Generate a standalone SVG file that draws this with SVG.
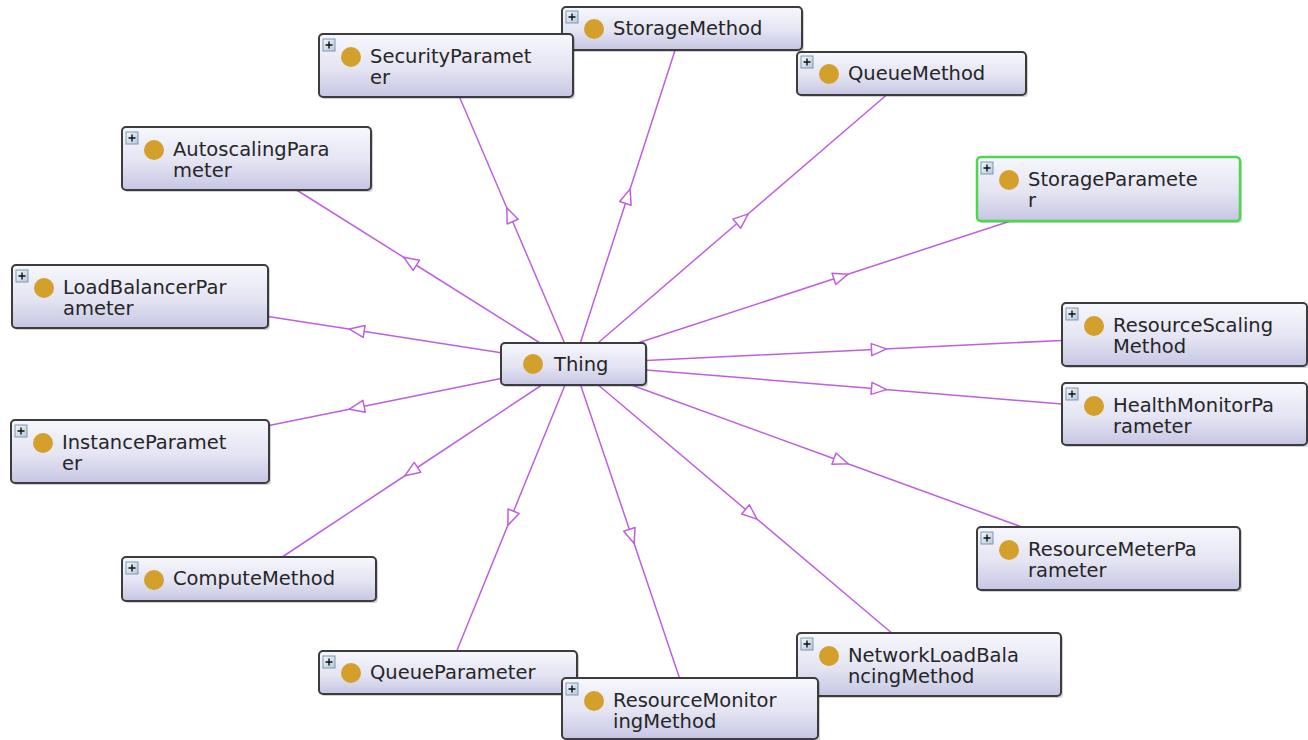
<svg xmlns="http://www.w3.org/2000/svg" width="1308" height="740" viewBox="0 0 1308 740">
<defs>
<linearGradient id="nodeGrad" x1="0" y1="0" x2="0" y2="1">
<stop offset="0" stop-color="#f7f7fd"/>
<stop offset="0.55" stop-color="#e4e4f3"/>
<stop offset="1" stop-color="#c6c6e3"/>
</linearGradient>
<linearGradient id="iconGrad" x1="0" y1="0" x2="1" y2="1">
<stop offset="0" stop-color="#f4f8fc"/>
<stop offset="1" stop-color="#b4c8dc"/>
</linearGradient>
<marker id="tri" markerUnits="userSpaceOnUse" markerWidth="20" markerHeight="16" viewBox="-2 -2 20 16" refX="7.5" refY="6" orient="auto">
<path d="M0,0 L15,6 L0,12 Z" fill="#ffffff" stroke="#bf5fe0" stroke-width="1.5" stroke-linejoin="round"/>
</marker>
<g id="plus">
<rect x="0" y="0" width="12" height="12" fill="url(#iconGrad)" stroke="#7f97b0" stroke-width="1"/>
<path d="M2.5,6 H9.5 M6,2.5 V9.5" stroke="#111" stroke-width="1.4"/>
</g>
</defs>
<style>
.edge{fill:none;stroke:#bf5fe0;stroke-width:1.5;marker-mid:url(#tri)}
.box{fill:url(#nodeGrad);stroke:#3c3c3c;stroke-width:2}
.sel{stroke:#4bd84b;stroke-width:2.5}
.shadow{fill:#000;opacity:0.18}
.dot{fill:#d4a02c}
.lbl{font-family:"DejaVu Sans","Liberation Sans",sans-serif;font-size:19.5px;fill:#262626}
</style>
<rect width="1308" height="740" fill="#ffffff"/>
<g id="connectors">
<path class="edge" d="M564.5,343 L509.75,214.75 L459.5,97"/>
<path class="edge" d="M580.3,343 L627.75,196.25 L675.1,50"/>
<path class="edge" d="M597.9,343 L742.5,218.75 L886.5,95"/>
<path class="edge" d="M540.1,343 L410,261.25 L296.6,190"/>
<path class="edge" d="M637.7,343 L841,276.5 L1010.6,221"/>
<path class="edge" d="M501,352.7 L356.75,330.25 L268,316.4"/>
<path class="edge" d="M646,360.5 L879,349.25 L1062,340.4"/>
<path class="edge" d="M646,369.9 L879,389 L1062,404"/>
<path class="edge" d="M501,378.6 L356.75,407.75 L269,425.5"/>
<path class="edge" d="M541.8,385 L411.25,471.5 L282.2,557"/>
<path class="edge" d="M565,385 L510.75,518.25 L456.75,651"/>
<path class="edge" d="M580.6,385 L631.75,536.5 L679.5,678"/>
<path class="edge" d="M598.3,385 L751.25,514.25 L891.7,633"/>
<path class="edge" d="M631.3,385 L841,461.25 L1021.8,527"/>
</g>
<g id="StorageMethod">
<rect class="shadow" x="564" y="9" width="240" height="43" rx="4"/>
<rect class="box" x="562" y="7" width="240" height="43" rx="4"/>
<use href="#plus" x="566" y="11"/>
<circle class="dot" cx="594" cy="29" r="10"/>
<text class="lbl" x="613" y="35">StorageMethod</text>
</g>
<g id="SecurityParameter">
<rect class="shadow" x="321" y="36" width="254" height="63" rx="4"/>
<rect class="box" x="319" y="34" width="254" height="63" rx="4"/>
<use href="#plus" x="323" y="39"/>
<circle class="dot" cx="351" cy="57" r="10"/>
<text class="lbl" x="370" y="63">SecurityParamet</text>
<text class="lbl" x="370" y="84">er</text>
</g>
<g id="QueueMethod">
<rect class="shadow" x="799" y="54" width="229" height="43" rx="4"/>
<rect class="box" x="797" y="52" width="229" height="43" rx="4"/>
<use href="#plus" x="801" y="56"/>
<circle class="dot" cx="829" cy="74" r="10"/>
<text class="lbl" x="848" y="80">QueueMethod</text>
</g>
<g id="AutoscalingParameter">
<rect class="shadow" x="124" y="129" width="249" height="63" rx="4"/>
<rect class="box" x="122" y="127" width="249" height="63" rx="4"/>
<use href="#plus" x="126" y="132"/>
<circle class="dot" cx="154" cy="150" r="10"/>
<text class="lbl" x="173" y="156">AutoscalingPara</text>
<text class="lbl" x="173" y="177">meter</text>
</g>
<g id="StorageParameter">
<rect class="shadow" x="979" y="159" width="263" height="64" rx="4"/>
<rect class="box sel" x="977" y="157" width="263" height="64" rx="4"/>
<use href="#plus" x="981" y="162"/>
<circle class="dot" cx="1009" cy="180" r="10"/>
<text class="lbl" x="1028" y="186">StorageParamete</text>
<text class="lbl" x="1028" y="207">r</text>
</g>
<g id="LoadBalancerParameter">
<rect class="shadow" x="14" y="267" width="256" height="63" rx="4"/>
<rect class="box" x="12" y="265" width="256" height="63" rx="4"/>
<use href="#plus" x="16" y="270"/>
<circle class="dot" cx="44" cy="288" r="10"/>
<text class="lbl" x="63" y="294">LoadBalancerPar</text>
<text class="lbl" x="63" y="315">ameter</text>
</g>
<g id="ResourceScalingMethod">
<rect class="shadow" x="1064" y="305" width="245" height="63" rx="4"/>
<rect class="box" x="1062" y="303" width="245" height="63" rx="4"/>
<use href="#plus" x="1066" y="308"/>
<circle class="dot" cx="1094" cy="326" r="10"/>
<text class="lbl" x="1113" y="332">ResourceScaling</text>
<text class="lbl" x="1113" y="353">Method</text>
</g>
<g id="Thing">
<rect class="shadow" x="503" y="345" width="145" height="42" rx="4"/>
<rect class="box" x="501" y="343" width="145" height="42" rx="4"/>
<circle class="dot" cx="533" cy="364" r="10"/>
<text class="lbl" x="554" y="371">Thing</text>
</g>
<g id="HealthMonitorParameter">
<rect class="shadow" x="1064" y="385" width="245" height="62" rx="4"/>
<rect class="box" x="1062" y="383" width="245" height="62" rx="4"/>
<use href="#plus" x="1066" y="388"/>
<circle class="dot" cx="1094" cy="406" r="10"/>
<text class="lbl" x="1113" y="412">HealthMonitorPa</text>
<text class="lbl" x="1113" y="433">rameter</text>
</g>
<g id="InstanceParameter">
<rect class="shadow" x="13" y="422" width="258" height="63" rx="4"/>
<rect class="box" x="11" y="420" width="258" height="63" rx="4"/>
<use href="#plus" x="15" y="425"/>
<circle class="dot" cx="43" cy="443" r="10"/>
<text class="lbl" x="62" y="449">InstanceParamet</text>
<text class="lbl" x="62" y="470">er</text>
</g>
<g id="ResourceMeterParameter">
<rect class="shadow" x="979" y="529" width="263" height="63" rx="4"/>
<rect class="box" x="977" y="527" width="263" height="63" rx="4"/>
<use href="#plus" x="981" y="532"/>
<circle class="dot" cx="1009" cy="550" r="10"/>
<text class="lbl" x="1028" y="556">ResourceMeterPa</text>
<text class="lbl" x="1028" y="577">rameter</text>
</g>
<g id="ComputeMethod">
<rect class="shadow" x="124" y="559" width="254" height="44" rx="4"/>
<rect class="box" x="122" y="557" width="254" height="44" rx="4"/>
<use href="#plus" x="126" y="562"/>
<circle class="dot" cx="154" cy="580" r="10"/>
<text class="lbl" x="173" y="585">ComputeMethod</text>
</g>
<g id="QueueParameter">
<rect class="shadow" x="321" y="653" width="258" height="43" rx="4"/>
<rect class="box" x="319" y="651" width="258" height="43" rx="4"/>
<use href="#plus" x="323" y="656"/>
<circle class="dot" cx="351" cy="673" r="10"/>
<text class="lbl" x="370" y="679">QueueParameter</text>
</g>
<g id="NetworkLoadBalancingMethod">
<rect class="shadow" x="799" y="635" width="264" height="63" rx="4"/>
<rect class="box" x="797" y="633" width="264" height="63" rx="4"/>
<use href="#plus" x="801" y="638"/>
<circle class="dot" cx="829" cy="656" r="10"/>
<text class="lbl" x="848" y="662">NetworkLoadBala</text>
<text class="lbl" x="848" y="683">ncingMethod</text>
</g>
<g id="ResourceMonitoringMethod">
<rect class="shadow" x="564" y="680" width="256" height="62" rx="4"/>
<rect class="box" x="562" y="678" width="256" height="61" rx="4"/>
<use href="#plus" x="566" y="683"/>
<circle class="dot" cx="594" cy="701" r="10"/>
<text class="lbl" x="613" y="707">ResourceMonitor</text>
<text class="lbl" x="613" y="728">ingMethod</text>
</g>
</svg>
